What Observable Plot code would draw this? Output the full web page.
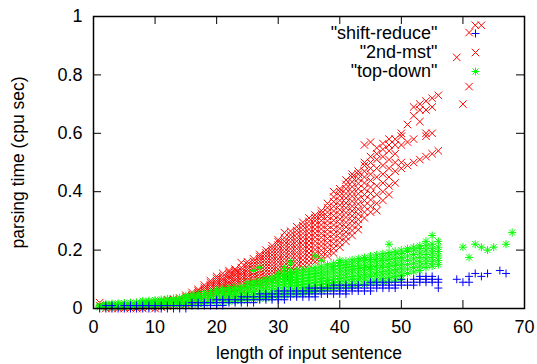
<!DOCTYPE html>
<html>
<head>
<meta charset="utf-8">
<script src="https://cdn.jsdelivr.net/npm/d3@7"></script>
<script src="https://cdn.jsdelivr.net/npm/@observablehq/plot@0.6"></script>
<style>
  html, body { margin: 0; padding: 0; background: #fff; }
  #chart { width: 537px; height: 364px; }
</style>
</head>
<body>
<div id="chart"></div>
<script>
// ---- data (sentence length -> parsing times, cpu sec) ----
const seriesNames = ["\"shift-reduce\"", "\"2nd-mst\"", "\"top-down\""];
const xTicks = [0, 10, 20, 30, 40, 50, 60, 70];
const yTicks = [0, 0.2, 0.4, 0.6, 0.8, 1];

// "shift-reduce" (blue +)
const shiftReduce = [
  [1,[0]],[2,[0,0.01]],[3,[0,0.01]],[4,[0]],[5,[0,0.01]],[6,[0,0.01]],[7,[0,0.01]],
  [8,[0,0.01]],[9,[0,0.01]],[10,[0,0.01]],[11,[0,0.01]],[12,[0,0.01]],[13,[0,0.01]],
  [14,[0,0.01]],[15,[0,0.01]],[16,[0.01,0.02]],[17,[0.01,0.02]],[18,[0.01,0.02]],
  [19,[0.01,0.02]],[20,[0.01,0.02,0.03]],[21,[0.01,0.02,0.03]],[22,[0.02,0.03]],
  [23,[0.02,0.03]],[24,[0.02,0.03,0.04]],[25,[0.02,0.03,0.04]],[26,[0.02,0.03,0.04]],
  [27,[0.03,0.04,0.05]],[28,[0.03,0.04,0.05]],[29,[0.03,0.04,0.05]],
  [30,[0.03,0.04,0.05,0.06]],[31,[0.03,0.04,0.05,0.06]],[32,[0.04,0.05,0.06]],
  [33,[0.04,0.05,0.06]],[34,[0.04,0.05,0.06]],[35,[0.04,0.05,0.06,0.07]],
  [36,[0.04,0.05,0.06,0.07]],[37,[0.05,0.06,0.07]],[38,[0.05,0.06,0.07]],
  [39,[0.05,0.06,0.07,0.08]],[40,[0.05,0.06,0.07,0.08]],[41,[0.05,0.06,0.07,0.08]],
  [42,[0.06,0.07,0.08]],[43,[0.06,0.07,0.08]],[44,[0.06,0.07,0.08]],
  [45,[0.06,0.07,0.08,0.09]],[46,[0.07,0.08,0.09]],[47,[0.07,0.08,0.09]],
  [48,[0.07,0.08,0.09]],[49,[0.07,0.08,0.09]],[50,[0.08,0.09,0.10]],[51,[0.08,0.09]],
  [52,[0.08,0.09,0.10]],[53,[0.09,0.10,0.11]],[54,[0.09,0.10,0.11]],[55,[0.09,0.10,0.11]],
  [56,[0.07,0.09,0.10]],[59,[0.10]],[60,[0.09]],[61,[0.09,0.11]],[62,[0.12]],
  [63,[0.11]],[64,[0.12]],[66,[0.13]],[67,[0.12]]
];

// "2nd-mst" (red x)
const secondMst = [
  [1,[0.01,0.02]],[2,[0,0.01]],[3,[0,0.005,0.01]],[4,[0,0.01]],[5,[0,0.005,0.01]],
  [6,[0,0.01]],[7,[0,0.005,0.01]],[8,[0,0.01,0.015]],[9,[0.005,0.01,0.015]],[10,[0,0.01,0.02]],
  [11,[0.005,0.012,0.02,0.025]],[12,[0.008,0.015,0.022,0.03]],[13,[0.01,0.017,0.025,0.032]],
  [14,[0.012,0.02,0.028,0.036]],[15,[0.015,0.023,0.031,0.039,0.045]],
  [16,[0.02,0.027,0.034,0.041,0.048,0.055]],
  [17,[0.025,0.032,0.039,0.046,0.053,0.06,0.065]],
  [18,[0.03,0.037,0.044,0.051,0.058,0.065,0.072,0.08]],
  [19,[0.035,0.042,0.05,0.057,0.064,0.072,0.08,0.088,0.095]],
  [20,[0.04,0.048,0.056,0.064,0.071,0.079,0.087,0.095,0.103,0.11]],
  [21,[0.045,0.053,0.061,0.069,0.077,0.085,0.093,0.101,0.11,0.12]],
  [22,[0.05,0.058,0.066,0.075,0.083,0.091,0.1,0.108,0.116,0.124,0.13]],
  [23,[0.055,0.064,0.072,0.081,0.089,0.098,0.106,0.115,0.123,0.13,0.135]],
  [24,[0.06,0.069,0.078,0.087,0.096,0.105,0.114,0.122,0.131,0.14,0.157]],
  [25,[0.07,0.079,0.088,0.097,0.106,0.115,0.124,0.133,0.142,0.151,0.16]],
  [26,[0.075,0.085,0.094,0.104,0.113,0.123,0.132,0.142,0.151,0.161,0.17]],
  [27,[0.08,0.09,0.1,0.11,0.12,0.13,0.14,0.15,0.16,0.17,0.178,0.185]],
  [28,[0.085,0.096,0.107,0.117,0.128,0.138,0.149,0.159,0.17,0.18,0.19,0.2]],
  [29,[0.095,0.106,0.117,0.128,0.139,0.15,0.161,0.172,0.183,0.194,0.205,0.215]],
  [30,[0.1,0.112,0.124,0.135,0.147,0.159,0.17,0.182,0.194,0.205,0.217,0.228,0.235]],
  [31,[0.11,0.122,0.134,0.146,0.158,0.17,0.182,0.194,0.206,0.218,0.23,0.242,0.26]],
  [32,[0.12,0.132,0.144,0.156,0.168,0.18,0.192,0.204,0.216,0.228,0.24,0.252,0.265]],
  [33,[0.13,0.142,0.155,0.167,0.18,0.192,0.205,0.217,0.23,0.242,0.255,0.267,0.28]],
  [34,[0.14,0.153,0.166,0.179,0.192,0.205,0.218,0.231,0.244,0.257,0.27,0.283,0.295]],
  [35,[0.15,0.163,0.177,0.19,0.204,0.217,0.231,0.244,0.258,0.271,0.285,0.298,0.31]],
  [36,[0.16,0.174,0.188,0.202,0.216,0.23,0.244,0.258,0.272,0.286,0.3,0.31,0.32]],
  [37,[0.17,0.185,0.199,0.214,0.228,0.243,0.257,0.272,0.286,0.301,0.315,0.325,0.335]],
  [38,[0.18,0.195,0.21,0.225,0.24,0.255,0.27,0.285,0.3,0.315,0.33,0.345,0.36]],
  [39,[0.19,0.206,0.222,0.238,0.254,0.27,0.286,0.302,0.318,0.334,0.35,0.366,0.382,0.4]],
  [40,[0.21,0.226,0.242,0.258,0.274,0.29,0.306,0.322,0.338,0.354,0.37,0.386,0.4,0.41]],
  [41,[0.23,0.246,0.262,0.279,0.295,0.312,0.328,0.345,0.361,0.378,0.394,0.41,0.425,0.44]],
  [42,[0.25,0.267,0.284,0.3,0.317,0.334,0.35,0.367,0.384,0.4,0.417,0.434,0.45,0.46]],
  [43,[0.27,0.288,0.305,0.323,0.34,0.358,0.375,0.393,0.41,0.428,0.445,0.46,0.47]],
  [44,[0.31,0.33,0.35,0.37,0.39,0.41,0.43,0.45,0.47,0.49,0.5,0.56]],
  [45,[0.33,0.35,0.372,0.394,0.416,0.438,0.46,0.48,0.5,0.52,0.57]],
  [46,[0.335,0.36,0.39,0.42,0.45,0.48,0.51,0.53,0.55]],
  [47,[0.37,0.4,0.43,0.46,0.49,0.52,0.545,0.565]],
  [48,[0.39,0.42,0.45,0.48,0.51,0.54,0.56,0.58]],
  [49,[0.43,0.47,0.5,0.53,0.56,0.58]],
  [50,[0.48,0.5,0.56,0.59,0.6]],
  [51,[0.49,0.57,0.63]],
  [52,[0.5,0.58,0.66,0.69]],
  [53,[0.51,0.64,0.68,0.7]],
  [54,[0.52,0.59,0.6,0.68,0.71]],
  [55,[0.53,0.6,0.69,0.72]],
  [56,[0.54,0.73]],
  [59,[0.86]],[60,[0.70]],[61,[0.76,0.945]],[62,[0.97]],[63,[0.97]]
];

// "top-down" (green *)
const topDown = [
  [1,[0.004,0.008,0.012]],[2,[0.004,0.008,0.012,0.016]],[3,[0.004,0.009,0.013,0.017]],
  [4,[0.005,0.009,0.013,0.018]],[5,[0.005,0.01,0.014,0.019]],[6,[0.006,0.01,0.015,0.02]],
  [7,[0.006,0.011,0.016,0.021]],[8,[0.007,0.012,0.017,0.022,0.026]],
  [9,[0.007,0.012,0.018,0.023,0.027]],[10,[0.008,0.013,0.018,0.024,0.029]],
  [11,[0.008,0.014,0.019,0.025,0.031]],[12,[0.009,0.015,0.021,0.027,0.033]],
  [13,[0.01,0.016,0.022,0.028,0.035]],[14,[0.011,0.017,0.023,0.03,0.037]],
  [15,[0.012,0.018,0.025,0.032,0.039,0.044]],[16,[0.013,0.02,0.027,0.034,0.041,0.047]],
  [17,[0.015,0.022,0.029,0.036,0.043,0.05]],[18,[0.016,0.023,0.03,0.038,0.045,0.052]],
  [19,[0.018,0.025,0.032,0.04,0.047,0.055]],[20,[0.02,0.027,0.034,0.042,0.049,0.057,0.063]],
  [21,[0.021,0.029,0.036,0.044,0.052,0.06,0.066]],[22,[0.023,0.031,0.039,0.047,0.055,0.063,0.07]],
  [23,[0.025,0.033,0.041,0.049,0.057,0.065,0.073]],[24,[0.027,0.035,0.043,0.052,0.06,0.068,0.077]],
  [25,[0.029,0.037,0.046,0.055,0.063,0.072,0.08,0.09]],
  [26,[0.031,0.04,0.049,0.058,0.067,0.076,0.085,0.093,0.13]],
  [27,[0.033,0.042,0.051,0.06,0.07,0.079,0.088,0.097,0.14]],
  [28,[0.035,0.044,0.054,0.064,0.073,0.083,0.092,0.101]],
  [29,[0.037,0.047,0.057,0.067,0.077,0.087,0.096,0.105]],
  [30,[0.04,0.05,0.06,0.07,0.08,0.09,0.1,0.11,0.118]],
  [31,[0.043,0.053,0.063,0.073,0.083,0.093,0.103,0.113,0.122,0.137]],
  [32,[0.046,0.056,0.066,0.076,0.086,0.096,0.106,0.116,0.126,0.157]],
  [33,[0.049,0.059,0.069,0.079,0.089,0.099,0.109,0.119,0.129]],
  [34,[0.052,0.062,0.072,0.082,0.092,0.102,0.112,0.122,0.132]],
  [35,[0.055,0.065,0.075,0.086,0.096,0.106,0.116,0.126,0.136]],
  [36,[0.058,0.068,0.079,0.089,0.1,0.11,0.12,0.131,0.141,0.18]],
  [37,[0.061,0.072,0.082,0.093,0.103,0.114,0.124,0.135,0.145,0.165]],
  [38,[0.064,0.075,0.086,0.096,0.107,0.118,0.128,0.139,0.15]],
  [39,[0.067,0.078,0.089,0.1,0.111,0.122,0.133,0.144,0.155]],
  [40,[0.07,0.081,0.092,0.103,0.114,0.125,0.136,0.147,0.158,0.165]],
  [41,[0.073,0.084,0.095,0.107,0.118,0.129,0.14,0.151,0.162]],
  [42,[0.076,0.087,0.099,0.11,0.122,0.133,0.144,0.156,0.167]],
  [43,[0.079,0.091,0.102,0.114,0.125,0.137,0.148,0.16,0.171]],
  [44,[0.082,0.094,0.105,0.117,0.129,0.14,0.152,0.164,0.175]],
  [45,[0.085,0.097,0.109,0.121,0.133,0.144,0.156,0.168,0.18]],
  [46,[0.088,0.1,0.112,0.124,0.136,0.148,0.16,0.172,0.184]],
  [47,[0.091,0.103,0.115,0.127,0.14,0.152,0.164,0.176,0.188]],
  [48,[0.094,0.106,0.119,0.131,0.143,0.155,0.168,0.18,0.192,0.22]],
  [49,[0.097,0.11,0.122,0.134,0.147,0.159,0.171,0.184,0.196]],
  [50,[0.1,0.113,0.125,0.138,0.15,0.163,0.175,0.188,0.2]],
  [51,[0.12,0.135,0.15,0.165,0.18,0.195,0.205]],
  [52,[0.125,0.14,0.155,0.17,0.185,0.2,0.21]],
  [53,[0.13,0.145,0.16,0.175,0.19,0.205,0.215]],
  [54,[0.14,0.155,0.17,0.185,0.2,0.215,0.23]],
  [55,[0.145,0.16,0.175,0.19,0.205,0.22,0.25]],
  [56,[0.15,0.165,0.18,0.195,0.21,0.23]],
  [60,[0.21]],[61,[0.175]],[62,[0.22]],[63,[0.21]],[64,[0.2]],[65,[0.21]],[67,[0.22]],[68,[0.26]]
];

const flat = rows => rows.flatMap(([len, vals]) => vals.map(t => ({len, t})));
const blueData = flat(shiftReduce);
const redData = flat(secondMst);
const greenData = flat(topDown);

const BLUE = "#0000ff", RED = "#ff0000", GREEN = "#00ff00";
const FONT = "'Liberation Sans', Arial, Helvetica, sans-serif";
const TICK = 8;
const W = 537, H = 364, ML = 93, MR = 13, MT = 16, MB = 56;
const FW = W - ML - MR, FH = H - MT - MB;

const legendDy = [17, 36, 55];
const legendDx = -49;

const chart = Plot.plot({
  width: W, height: H,
  marginLeft: ML, marginRight: MR, marginTop: MT, marginBottom: MB,
  style: {fontFamily: FONT, fontSize: "18px", color: "#000", background: "#fff"},
  x: {domain: [0, 70]},
  y: {domain: [0, 1]},
  marks: [
    // inward ticks (bottom, top, left, right)
    Plot.ruleX(xTicks.slice(1, -1), {x: d => d, insetTop: FH - TICK, stroke: "#000", strokeWidth: 1}),
    Plot.ruleX(xTicks.slice(1, -1), {x: d => d, insetBottom: FH - TICK, stroke: "#000", strokeWidth: 1}),
    Plot.ruleY(yTicks.slice(1, -1), {y: d => d, insetRight: FW - TICK, stroke: "#000", strokeWidth: 1}),
    Plot.ruleY(yTicks.slice(1, -1), {y: d => d, insetLeft: FW - TICK, stroke: "#000", strokeWidth: 1}),
    Plot.axisX({ticks: xTicks, tickSize: 0, tickPadding: 12, tickFormat: d => String(d), label: null, fontSize: 18}),
    Plot.axisY({ticks: yTicks, tickSize: 0, tickPadding: 11, tickFormat: d => String(d), label: null, fontSize: 18}),
    Plot.text(["length of input sentence"], {frameAnchor: "bottom", dy: 45, textAnchor: "middle", lineAnchor: "middle", fontSize: 17.5, text: d => d}),
    Plot.text(["parsing time (cpu sec)"], {frameAnchor: "left", dx: -75, rotate: -90, textAnchor: "middle", lineAnchor: "middle", fontSize: 17.5, text: d => d}),
    // data (drawn red, green, then blue)
    Plot.dot(redData, {x: "len", y: "t", symbol: "times", r: 3.5, stroke: RED, strokeWidth: 1}),
    Plot.dot(greenData, {x: "len", y: "t", symbol: "plus", r: 2.7, stroke: GREEN, strokeWidth: 1}),
    Plot.dot(greenData, {x: "len", y: "t", symbol: "times", r: 2.8, stroke: GREEN, strokeWidth: 1}),
    Plot.dot(blueData, {x: "len", y: "t", symbol: "plus", r: 2.7, stroke: BLUE, strokeWidth: 1}),
    // legend
    Plot.text([seriesNames[0]], {frameAnchor: "top-right", dx: -87, dy: legendDy[0], textAnchor: "end", lineAnchor: "middle", fontSize: 18, text: d => d}),
    Plot.text([seriesNames[1]], {frameAnchor: "top-right", dx: -87, dy: legendDy[1], textAnchor: "end", lineAnchor: "middle", fontSize: 18, text: d => d}),
    Plot.text([seriesNames[2]], {frameAnchor: "top-right", dx: -87, dy: legendDy[2], textAnchor: "end", lineAnchor: "middle", fontSize: 18, text: d => d}),
    Plot.dot([seriesNames[0]], {frameAnchor: "top-right", dx: legendDx, dy: legendDy[0], symbol: "plus", r: 2.7, stroke: BLUE, strokeWidth: 1}),
    Plot.dot([seriesNames[1]], {frameAnchor: "top-right", dx: legendDx, dy: legendDy[1], symbol: "times", r: 3.5, stroke: RED, strokeWidth: 1}),
    Plot.dot([seriesNames[2]], {frameAnchor: "top-right", dx: legendDx, dy: legendDy[2], symbol: "plus", r: 2.7, stroke: GREEN, strokeWidth: 1}),
    Plot.dot([seriesNames[2]], {frameAnchor: "top-right", dx: legendDx, dy: legendDy[2], symbol: "times", r: 2.8, stroke: GREEN, strokeWidth: 1}),
    Plot.frame({stroke: "#000", strokeWidth: 1.5})
  ]
});
document.getElementById("chart").appendChild(chart);
</script>
</body>
</html>
